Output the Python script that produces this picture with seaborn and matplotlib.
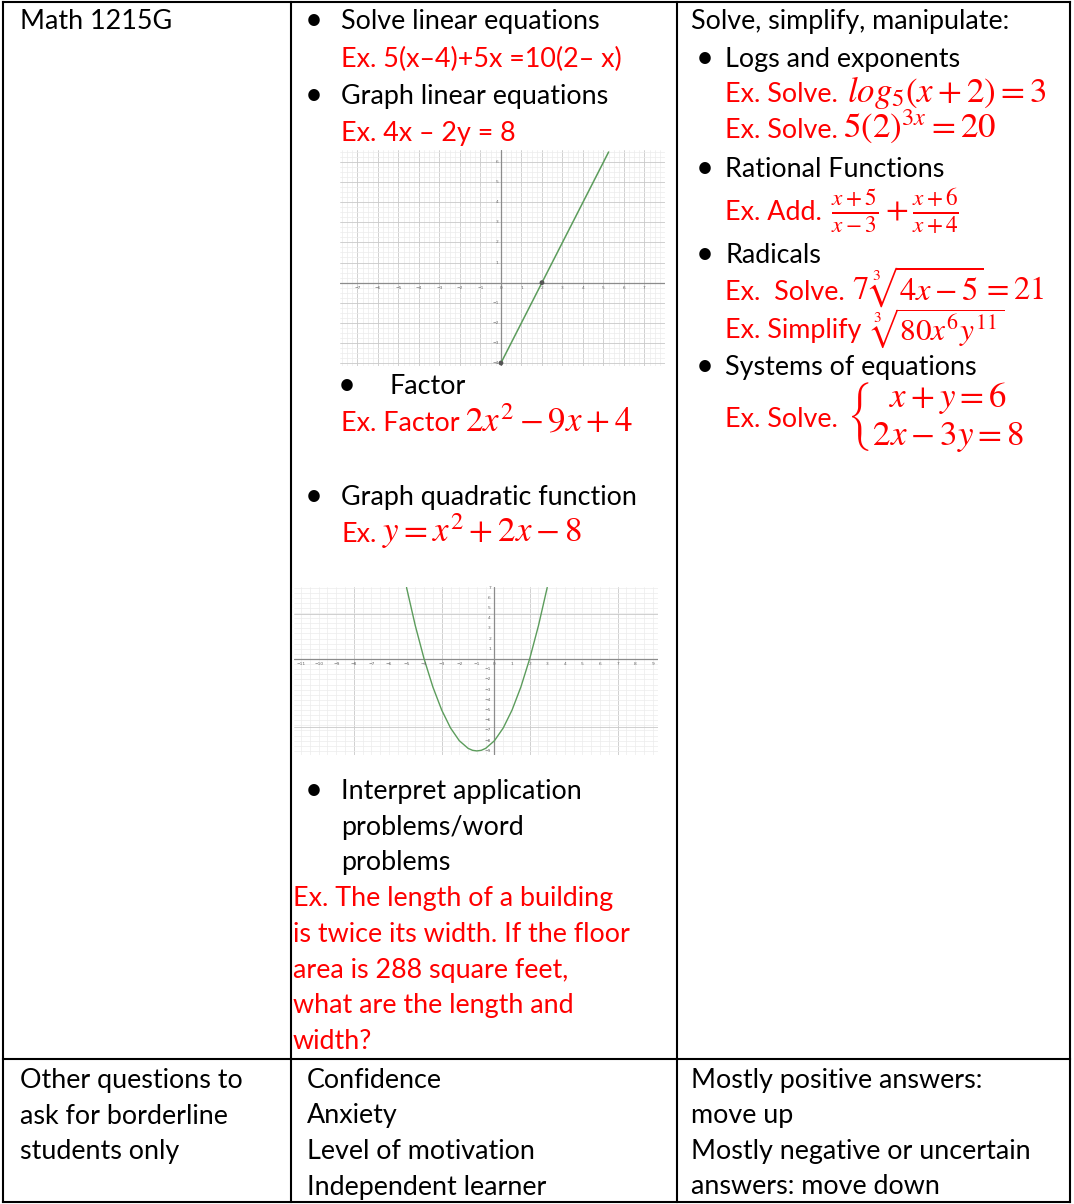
import matplotlib
matplotlib.use("Agg")
import matplotlib.pyplot as plt
import seaborn as sns
from matplotlib.ticker import MultipleLocator, FixedLocator

# ---------------- data ----------------
# Graph 1: 4x - 2y = 8  (GeoGebra-style line, two marked points)
linear_x = [0.0, 2.0, 5.25]
linear_y = [-4.0, 0.0, 6.5]
linear_pts_x = [0.0, 2.0]
linear_pts_y = [-4.0, 0.0]
linear_xticks = [-7, -6, -5, -4, -3, -2, -1, 0, 1, 2, 3, 4, 5, 6, 7]
linear_yticks = [-4, -3, -2, -1, 1, 2, 3, 4, 5, 6]

# Graph 2: y = x^2 + 2x - 8
quad_x = [-5.0, -4.5, -4.0, -3.5, -3.0, -2.5, -2.0, -1.5, -1.25, -1.0,
          -0.75, -0.5, 0.0, 0.5, 1.0, 1.5, 2.0, 2.5, 3.0]
quad_y = [7.0, 3.25, 0.0, -2.75, -5.0, -6.75, -8.0, -8.75, -8.94, -9.0,
          -8.94, -8.75, -8.0, -6.75, -5.0, -2.75, 0.0, 3.25, 7.0]
quad_xticks = [-11, -10, -9, -8, -7, -6, -5, -4, -3, -2, -1, 0,
               1, 2, 3, 4, 5, 6, 7, 8, 9]
quad_yticks = [-9, -8, -7, -6, -5, -4, -3, -2, -1, 1, 2, 3, 4, 5, 6, 7]

# Table text
col1_top = ["Math 1215G"]
col2_bullets = ["Solve linear equations", "Graph linear equations",
                "Factor", "Graph quadratic function"]
col2_red_plain = ["Ex. 5(x\u20134)+5x =10(2\u2013 x)", "Ex. 4x \u2013 2y = 8"]
col2_interpret = ["Interpret application", "problems/word", "problems"]
col2_word_problem = ["Ex. The length of a building",
                     "is twice its width. If the floor",
                     "area is 288 square feet,",
                     "what are the length and",
                     "width?"]
col3_header = "Solve, simplify, manipulate:"
col3_bullets = ["Logs and exponents", "Rational Functions", "Radicals",
                "Systems of equations"]
bottom_col1 = ["Other questions to", "ask for borderline", "students only"]
bottom_col2 = ["Confidence", "Anxiety", "Level of motivation",
               "Independent learner"]
bottom_col3 = ["Mostly positive answers:", "move up",
               "Mostly negative or uncertain", "answers: move down"]

# ---------------- style ----------------
sns.set_style("white")
plt.rcParams["font.family"] = ["Lato", "DejaVu Sans"]
plt.rcParams["mathtext.fontset"] = "stix"

RED = "#ff0000"
BLACK = "#000000"
W, H = 1074, 1204

fig = plt.figure(figsize=(W / 100, H / 100), dpi=100)
ax0 = fig.add_axes([0, 0, 1, 1])
ax0.set_xlim(0, W)
ax0.set_ylim(H, 0)
ax0.axis("off")
renderer = fig.canvas.get_renderer()


def fit_size(s, target_px):
    t = ax0.text(0, 0, s, fontsize=20)
    w = t.get_window_extent(renderer).width
    t.remove()
    return 20 * target_px / w


FS = fit_size("Solve linear equations", 260)
MFS = fit_size(r"$log_5(x+2)=3$", 200)


def txt(x, y, s, color=BLACK, size=None, **kw):
    return ax0.text(x, y, s, color=color, fontsize=size or FS,
                    va=kw.pop("va", "baseline"), ha=kw.pop("ha", "left"), **kw)


def bullet(x, y):
    ax0.text(x, y, "\u2022", fontsize=FS * 1.15, va="baseline", ha="center",
             color=BLACK)


# ---------------- table grid ----------------
lw = 1.5
for x in [3, 291, 677, 1070]:
    ax0.plot([x, x], [2, 1202], color=BLACK, lw=lw, solid_capstyle="projecting")
for y in [2, 1059, 1202]:
    ax0.plot([3, 1070], [y, y], color=BLACK, lw=lw, solid_capstyle="projecting")

# ---------------- column 1 ----------------
txt(20, 29, col1_top[0])
for i, s in enumerate(bottom_col1):
    txt(20, 1088 + i * 35.5, s)

# ---------------- column 2 ----------------
bullet(314, 29); txt(341, 29, col2_bullets[0])
txt(341, 67, col2_red_plain[0], RED)
bullet(314, 104); txt(341, 104, col2_bullets[1])
txt(341, 141, col2_red_plain[1], RED)
bullet(347, 394); txt(389, 394, col2_bullets[2])
txt(341, 431, "Ex. Factor", RED)
txt(465, 431, r"$2x^2-9x+4$", RED, size=MFS)
bullet(314, 505); txt(341, 505, col2_bullets[3])
txt(341, 542, "Ex.", RED)
txt(382, 542, r"$y=x^2+2x-8$", RED, size=MFS)
bullet(314, 799)
for i, s in enumerate(col2_interpret):
    txt(341, 799 + i * 35.5, s)
for i, s in enumerate(col2_word_problem):
    txt(293, 906 + i * 35.8, s, RED)
for i, s in enumerate(bottom_col2):
    txt(307, 1088 + i * 35.5, s)

# ---------------- column 3 ----------------
txt(691, 29, col3_header)
bullet(705, 67); txt(725, 67, col3_bullets[0])
txt(725, 102, "Ex. Solve.", RED)
txt(847, 102, r"$log_5(x+2)=3$", RED, size=MFS)
txt(725, 138, "Ex. Solve.", RED)
txt(843, 138, r"$5(2)^{3x}=20$", RED, size=MFS)
bullet(705, 177); txt(725, 177, col3_bullets[1])
txt(725, 220, "Ex. Add.", RED)
txt(831, 220, r"$\frac{x+5}{x-3}+\frac{x+6}{x+4}$", RED, size=MFS * 0.95)
bullet(705, 263); txt(725, 263, col3_bullets[2])
txt(725, 300, "Ex.  Solve.", RED)
txt(852, 300, r"$7\,\sqrt[3]{4x-5}=21$", RED, size=MFS * 0.93)
txt(725, 338, "Ex. Simplify", RED)
txt(870, 340, r"$\sqrt[3]{80x^6y^{11}}$", RED, size=MFS * 0.9)
bullet(705, 375); txt(725, 375, col3_bullets[3])
txt(725, 427, "Ex. Solve.", RED)

system_ok = True
sys_t = txt(847, 425, r"$\left\{\genfrac{}{}{0}{0}{x+y=6}{2x-3y=8}\right.$",
            RED, size=MFS)
try:
    sys_t.get_window_extent(renderer)
except Exception:
    system_ok = False
    sys_t.remove()
if not system_ok:
    ax0.text(846, 416, "{", color=RED, fontsize=MFS * 2.0, va="center",
             ha="left", weight="light")
    txt(875, 407, r"$x+y=6$", RED, size=MFS)
    txt(860, 442, r"$2x-3y=8$", RED, size=MFS)
for i, s in enumerate(bottom_col3):
    txt(691, 1088 + i * 35.5, s)


# ---------------- embedded graphs ----------------
def geogebra_axes(rect_px, xlim, ylim, minor, major_x, major_y):
    x0, y0, x1, y1 = rect_px
    ax = fig.add_axes([x0 / W, 1 - y1 / H, (x1 - x0) / W, (y1 - y0) / H])
    ax.set_xlim(*xlim)
    ax.set_ylim(*ylim)
    ax.xaxis.set_minor_locator(MultipleLocator(minor))
    ax.yaxis.set_minor_locator(MultipleLocator(minor))
    ax.xaxis.set_major_locator(major_x)
    ax.yaxis.set_major_locator(major_y)
    ax.grid(which="minor", color="#ececec", lw=0.5)
    ax.grid(which="major", color="#c9c9c9", lw=0.6)
    ax.tick_params(which="both", length=0, labelbottom=False, labelleft=False)
    for sp in ax.spines.values():
        sp.set_visible(False)
    ax.set_facecolor("white")
    ax.axhline(0, color="#8c8c8c", lw=0.9, zorder=2)
    ax.axvline(0, color="#8c8c8c", lw=0.9, zorder=2)
    ax.set_xlabel("")
    ax.set_ylabel("")
    return ax


def tick_labels(ax, xt, yt, dx, dy):
    for v in xt:
        ax.text(v, -dy, str(v).replace("-", "\u2212"), fontsize=3.2,
                color="#666666", ha="center", va="top",
                family="DejaVu Sans")
    for v in yt:
        ax.text(-dx, v, str(v).replace("-", "\u2212"), fontsize=3.2,
                color="#666666", ha="right", va="center",
                family="DejaVu Sans")


GREEN = "#5c9c5c"

ax1 = geogebra_axes((340, 150, 665, 366), (-7.85, 8.0), (-4.15, 6.6), 0.25,
                    MultipleLocator(1), MultipleLocator(1))
sns.lineplot(x=linear_x, y=linear_y, ax=ax1, color=GREEN, lw=1.1,
             estimator=None, sort=False, legend=False, zorder=3)
sns.scatterplot(x=linear_pts_x, y=linear_pts_y, ax=ax1, color="#555555",
                s=12, edgecolor="none", legend=False, zorder=4)
tick_labels(ax1, linear_xticks, linear_yticks, 0.12, 0.15)

ax2 = geogebra_axes((294, 587, 658, 755), (-11.4, 9.3), (-9.4, 7.05), 0.5,
                    FixedLocator([-8, -3, 2, 7]), FixedLocator([4.4, -6.7]))
sns.lineplot(x=quad_x, y=quad_y, ax=ax2, color=GREEN, lw=1.0,
             estimator=None, sort=False, legend=False, zorder=3)
tick_labels(ax2, quad_xticks, quad_yticks, 0.2, 0.25)

fig.savefig("out.png", dpi=100)
